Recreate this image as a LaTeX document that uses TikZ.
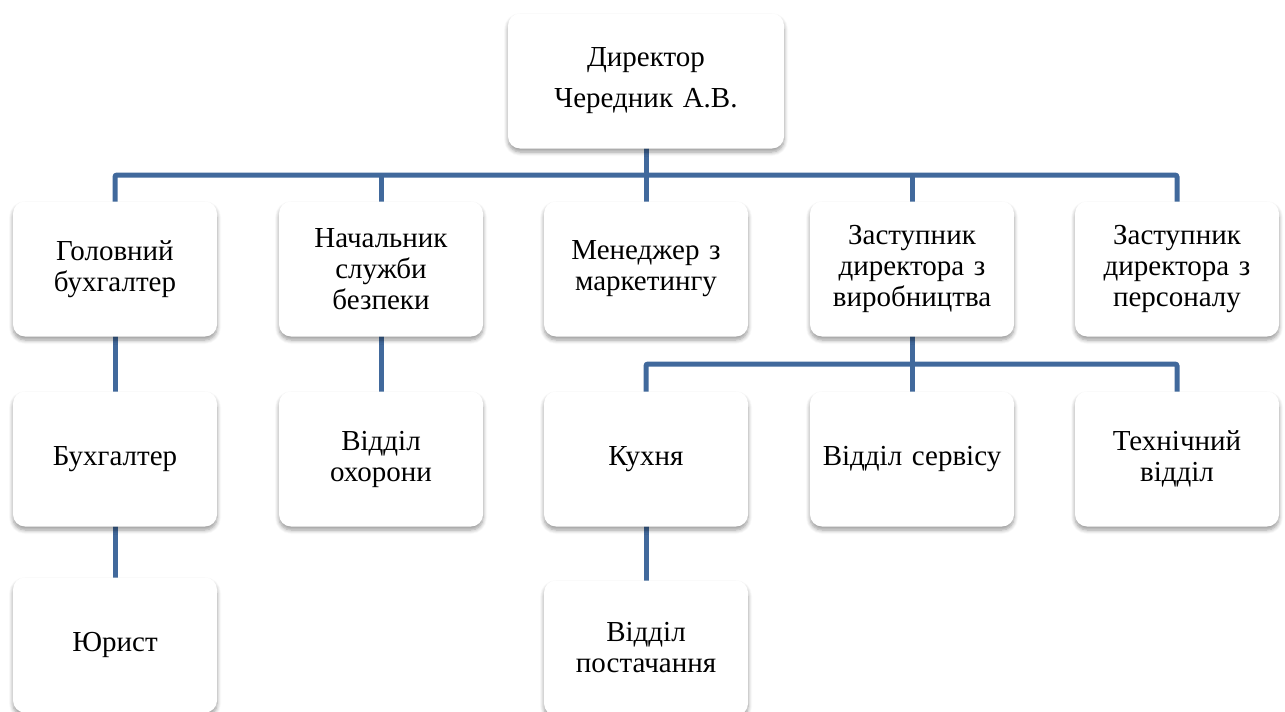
\documentclass[tikz,border=0pt]{standalone}
\usepackage{fontspec}
\setmainfont{Liberation Serif}
\usetikzlibrary{shadows.blur}
\definecolor{linkblue}{RGB}{65,105,156}
\tikzset{
  x=1pt, y=-1pt,
  unit/.style={rectangle, rounded corners=12pt, fill=white,
    minimum width=204pt, minimum height=135pt, inner sep=2pt,
    align=center, text width=200pt,
    font=\fontsize{29}{31}\selectfont,
    blur shadow={shadow xshift=0pt, shadow yshift=-3.5pt, shadow blur steps=6,
      shadow blur radius=4pt, shadow opacity=40}},
  link/.style={draw=linkblue, line width=5pt, rounded corners=2pt}
}
\begin{document}
\begin{tikzpicture}
\useasboundingbox (0,0) rectangle (1285,712);

% connectors are drawn first, boxes sit on top of them
\draw[link] (115,269) |- (1177,175) -- (1177,269);
\draw[link] (646,80) -- (646,269);
\draw[link] (381,175) -- (381,269);
\draw[link] (912,175) -- (912,269);
\draw[link] (115,269) -- (115,459);
\draw[link] (115,459) -- (115,645);
\draw[link] (381,269) -- (381,459);
\draw[link] (646,459) |- (1177,364) -- (1177,459);
\draw[link] (912,269) -- (912,459);
\draw[link] (646,459) -- (646,648);

% top level
\node[unit, minimum width=276pt, text width=270pt,
      font=\fontsize{29}{41}\selectfont] (dir) at (646,81) {Директор\\Чередник А.В.};

% first level
\node[unit] (chief) at (115,269) {Головний\\бухгалтер};
\node[unit] (sec)   at (381,269) {Начальник\\служби\\безпеки};
\node[unit] (mkt)   at (646,269) {Менеджер з\\маркетингу};
\node[unit] (prod)  at (912,269) {Заступник\\директора з\\виробництва};
\node[unit] (hr)    at (1177,269) {Заступник\\директора з\\персоналу};

% second level
\node[unit] (acc)   at (115,459) {Бухгалтер};
\node[unit] (guard) at (381,459) {Відділ\\охорони};
\node[unit] (kitch) at (646,459) {Кухня};
\node[unit] (serv)  at (912,459) {Відділ сервісу};
\node[unit] (tech)  at (1177,459) {Технічний\\відділ};

% third level
\node[unit] (law)   at (115,645) {Юрист};
\node[unit] (supp)  at (646,648) {Відділ\\постачання};
\end{tikzpicture}
\end{document}
